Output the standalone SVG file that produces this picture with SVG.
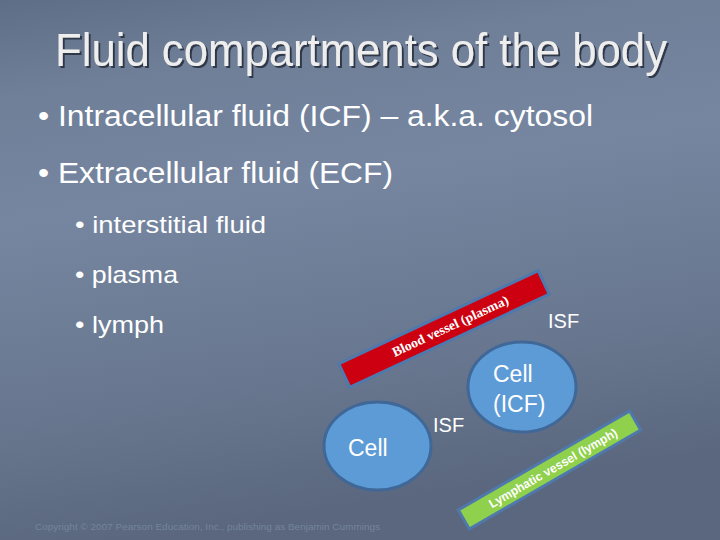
<svg xmlns="http://www.w3.org/2000/svg" width="720" height="540" viewBox="0 0 720 540">
  <defs>
    <linearGradient id="bg" x1="0" y1="0" x2="0.2" y2="1">
      <stop offset="0" stop-color="#5e6e87"/>
      <stop offset="0.17" stop-color="#6f7f98"/>
      <stop offset="0.4" stop-color="#7686a0"/>
      <stop offset="0.75" stop-color="#68778f"/>
      <stop offset="1" stop-color="#5a677e"/>
    </linearGradient>
    <filter id="shadow" x="-5%" y="-20%" width="110%" height="140%">
      <feDropShadow dx="2" dy="2" stdDeviation="0.6" flood-color="#2a3040" flood-opacity="0.9"/>
    </filter>
  </defs>
  <style>
    .title { font-family: "Liberation Sans", Arial, sans-serif; font-size: 46px; fill: #eeeeee; }
    .b1 { font-family: "Liberation Sans", Arial, sans-serif; font-size: 30px; fill: #ffffff; }
    .b2 { font-family: "Liberation Sans", Arial, sans-serif; font-size: 24px; fill: #ffffff; }
    .lbl { font-family: "Liberation Sans", Arial, sans-serif; font-size: 23px; fill: #ffffff; }
    .isf { font-family: "Liberation Sans", Arial, sans-serif; font-size: 20px; fill: #ffffff; }
    .cell { fill: #5d9bd6; stroke: #3f6898; stroke-width: 3; }
    .bar { stroke: #4f78ad; stroke-width: 3; }
    .red { fill: #cc0010; }
    .green { fill: #8fd04c; }
    .bt1 { font-family: "Liberation Serif", "Times New Roman", serif; font-weight: bold; font-size: 13.5px; fill: #ffffff; }
    .bt2 { font-family: "Liberation Sans", Arial, sans-serif; font-weight: bold; font-size: 12.5px; fill: #ffffff; }
    .copy { font-family: "Liberation Sans", Arial, sans-serif; font-size: 9.5px; fill: #74849b; }
  </style>
  <rect x="0" y="0" width="720" height="540" fill="url(#bg)"/>

  <g id="title">
    <text class="title" x="55" y="66" textLength="612" lengthAdjust="spacingAndGlyphs" filter="url(#shadow)">Fluid compartments of the body</text>
  </g>

  <g id="bullets">
    <text class="b1" x="38" y="126" textLength="555" lengthAdjust="spacingAndGlyphs">• Intracellular fluid (ICF) – a.k.a. cytosol</text>
    <text class="b1" x="38" y="183" textLength="355" lengthAdjust="spacingAndGlyphs">• Extracellular fluid (ECF)</text>
    <text class="b2" x="75" y="233" textLength="191" lengthAdjust="spacingAndGlyphs">• interstitial fluid</text>
    <text class="b2" x="75" y="283" textLength="103" lengthAdjust="spacingAndGlyphs">• plasma</text>
    <text class="b2" x="75" y="333" textLength="89" lengthAdjust="spacingAndGlyphs">• lymph</text>
  </g>

  <g id="connectors"/>

  <g id="blood-vessel" transform="translate(444,329) rotate(-25)">
    <rect class="bar red" x="-110" y="-13" width="220" height="26"/>
    <text class="bt1" x="7" y="4.5" text-anchor="middle" textLength="127" lengthAdjust="spacingAndGlyphs">Blood vessel (plasma)</text>
  </g>

  <g id="lymphatic-vessel" transform="translate(549.5,470) rotate(-30)">
    <rect class="bar green" x="-99" y="-11" width="198" height="22"/>
    <text class="bt2" x="4" y="4.5" text-anchor="middle" textLength="146" lengthAdjust="spacingAndGlyphs">Lymphatic vessel (lymph)</text>
  </g>

  <g id="cell-left">
    <ellipse class="cell" cx="377.5" cy="446" rx="53.5" ry="44"/>
    <text class="lbl" x="348" y="456">Cell</text>
  </g>

  <g id="cell-icf">
    <ellipse class="cell" cx="522" cy="387" rx="54" ry="45"/>
    <text class="lbl" x="493" y="382">Cell</text>
    <text class="lbl" x="493" y="412">(ICF)</text>
  </g>

  <g id="isf-upper">
    <text class="isf" x="548" y="328">ISF</text>
  </g>
  <g id="isf-lower">
    <text class="isf" x="433" y="432">ISF</text>
  </g>

  <g id="copyright">
    <text class="copy" x="35" y="530" textLength="345" lengthAdjust="spacingAndGlyphs">Copyright © 2007 Pearson Education, Inc., publishing as Benjamin Cummings</text>
  </g>
</svg>
